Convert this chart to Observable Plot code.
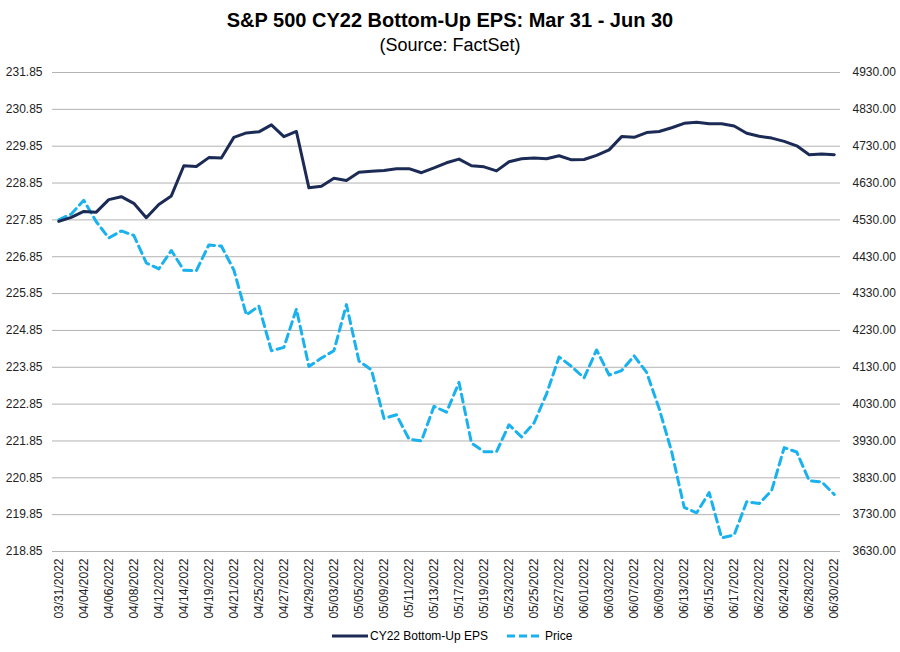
<!DOCTYPE html>
<html>
<head>
<meta charset="utf-8">
<script src="https://cdn.jsdelivr.net/npm/d3@7"></script>
<script src="https://cdn.jsdelivr.net/npm/@observablehq/plot@0.6"></script>
<style>
  body { margin: 0; background: #fff; font-family: "Liberation Sans", Arial, sans-serif; }
  #wrap { width: 900px; height: 652px; position: relative; }
  #title { height: 62px; text-align: center; color: #000; }
  #title .t { font-weight: bold; font-size: 20px; padding-top: 8px; line-height: 24px; }
  #title .s { font-size: 18px; line-height: 24px; padding-top: 1px; }
  #legend { height: 26px; position: relative; font-size: 12px; color: #000; }
</style>
</head>
<body>
<div id="wrap">
  <div id="title"><div class="t">S&amp;P 500 CY22 Bottom-Up EPS: Mar 31 - Jun 30</div><div class="s">(Source: FactSet)</div></div>
  <div id="chart"></div>
  <div id="legend"></div>
</div>
<script>
const dates = [
  "03/31/2022","04/01/2022","04/04/2022","04/05/2022","04/06/2022","04/07/2022","04/08/2022",
  "04/11/2022","04/12/2022","04/13/2022","04/14/2022","04/18/2022","04/19/2022","04/20/2022",
  "04/21/2022","04/22/2022","04/25/2022","04/26/2022","04/27/2022","04/28/2022","04/29/2022",
  "05/02/2022","05/03/2022","05/04/2022","05/05/2022","05/06/2022","05/09/2022","05/10/2022",
  "05/11/2022","05/12/2022","05/13/2022","05/16/2022","05/17/2022","05/18/2022","05/19/2022",
  "05/20/2022","05/23/2022","05/24/2022","05/25/2022","05/26/2022","05/27/2022","05/31/2022",
  "06/01/2022","06/02/2022","06/03/2022","06/06/2022","06/07/2022","06/08/2022","06/09/2022",
  "06/10/2022","06/13/2022","06/14/2022","06/15/2022","06/16/2022","06/17/2022","06/21/2022",
  "06/22/2022","06/23/2022","06/24/2022","06/27/2022","06/28/2022","06/29/2022","06/30/2022"
];
const eps = [
  227.81,227.92,228.08,228.06,228.40,228.48,228.30,
  227.91,228.27,228.50,229.32,229.30,229.54,229.53,
  230.09,230.21,230.24,230.43,230.11,230.25,228.72,
  228.76,228.98,228.92,229.14,229.17,229.19,229.24,
  229.24,229.13,229.26,229.40,229.50,229.32,229.29,
  229.18,229.43,229.51,229.53,229.51,229.59,229.48,
  229.49,229.60,229.75,230.11,230.09,230.22,230.25,
  230.35,230.47,230.50,230.46,230.46,230.40,230.20,
  230.12,230.07,229.98,229.86,229.62,229.64,229.62
];
const price = [
  4530,4546,4583,4525,4481,4500,4488,
  4413,4397,4447,4393,4392,4462,4459,
  4394,4272,4296,4175,4184,4288,4132,
  4155,4175,4300,4147,4123,3991,4001,
  3935,3930,4024,4008,4089,3924,3901,
  3901,3974,3941,3979,4058,4158,4132,
  4101,4177,4109,4121,4161,4116,4018,
  3901,3750,3735,3790,3667,3675,3765,
  3760,3796,3912,3900,3822,3819,3785
];
const leftTicks = [218.85,219.85,220.85,221.85,222.85,223.85,224.85,225.85,226.85,227.85,228.85,229.85,230.85,231.85];
const rightTicks = ["3630.00","3730.00","3830.00","3930.00","4030.00","4130.00","4230.00","4330.00","4430.00","4530.00","4630.00","4730.00","4830.00","4930.00"];
const xTicks = dates.filter((d, i) => i % 2 === 0);

// right axis is a linear relabelling of the left one: 218.85 <-> 3630, 1 EPS unit <-> 100 points
const priceToLeft = p => leftTicks[0] + (p - +rightTicks[0]) / 100;

const rows = dates.map((d, i) => ({date: d, eps: eps[i], price: price[i]}));

const EPS_COLOR = "#1c2b55";
const PRICE_COLOR = "#1ab2ee";

const chart = Plot.plot({
  width: 900,
  height: 564,
  marginTop: 10,
  marginBottom: 75,
  marginLeft: 52,
  marginRight: 60,
  style: {fontFamily: "'Liberation Sans', Arial, sans-serif", fontSize: "12px", color: "#222", background: "#fff"},
  x: {type: "point", domain: dates, padding: 0.5, label: null},
  y: {domain: [leftTicks[0], leftTicks[leftTicks.length - 1]], label: null},
  marks: [
    Plot.gridY(leftTicks, {stroke: "#b3b3b3", strokeOpacity: 1, strokeWidth: 1}),
    Plot.axisY(leftTicks, {anchor: "left", tickSize: 0, tickPadding: 10, tickFormat: d => d.toFixed(2), fontSize: 12, label: null}),
    Plot.axisY(leftTicks, {anchor: "right", tickSize: 0, tickPadding: 12, tickFormat: d => rightTicks[leftTicks.indexOf(d)], fontSize: 12, textAnchor: "start", label: null}),
    Plot.axisX(xTicks, {anchor: "bottom", tickSize: 0, tickPadding: 7, tickRotate: -90, fontSize: 12, label: null}),
    Plot.line(rows, {x: "date", y: d => priceToLeft(d.price), stroke: PRICE_COLOR, strokeWidth: 3, strokeDasharray: "8,5", strokeLinejoin: "round"}),
    Plot.line(rows, {x: "date", y: "eps", stroke: EPS_COLOR, strokeWidth: 3, strokeLinejoin: "round"})
  ]
});
document.getElementById("chart").appendChild(chart);

// legend
const legend = d3.select("#legend").append("svg").attr("width", 900).attr("height", 26);
const items = [
  {label: "CY22 Bottom-Up EPS", color: EPS_COLOR, dash: null, x: 332, len: 36, gap: 38},
  {label: "Price", color: PRICE_COLOR, dash: "8,4", x: 507, len: 32, gap: 38}
];
items.forEach(it => {
  legend.append("line").attr("x1", it.x).attr("x2", it.x + it.len).attr("y1", 10).attr("y2", 10)
    .attr("stroke", it.color).attr("stroke-width", 3).attr("stroke-dasharray", it.dash);
  legend.append("text").attr("x", it.x + it.gap).attr("y", 14).text(it.label)
    .attr("font-size", 12).attr("font-family", "'Liberation Sans', Arial, sans-serif").attr("fill", "#000");
});
</script>
</body>
</html>
